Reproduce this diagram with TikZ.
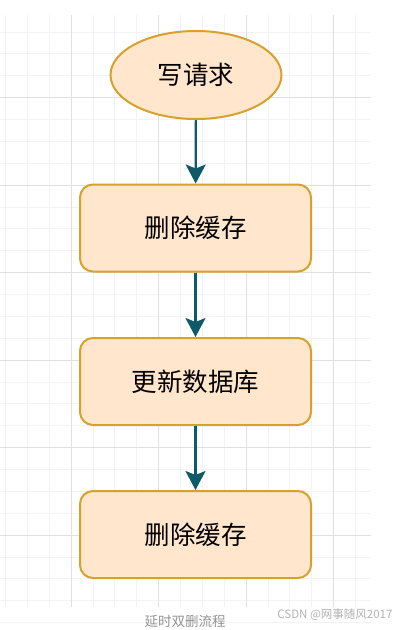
\documentclass[tikz,border=0pt]{standalone}
\usepackage{fontspec}
\newfontfamily\cjk{Noto Sans CJK SC}
\usetikzlibrary{shapes.geometric,arrows.meta}
\definecolor{boxfill}{HTML}{FFE6CC}
\definecolor{boxdraw}{HTML}{D6A12C}
\definecolor{arrowc}{HTML}{0E5A68}
\definecolor{gmajor}{HTML}{E0E0E0}
\definecolor{gminor}{HTML}{F3F3F3}
\tikzset{
  stepbox/.style={draw=boxdraw, fill=boxfill, line width=2pt, rounded corners=13pt,
    minimum width=231pt, minimum height=87pt, inner sep=0pt, font=\cjk\fontsize{25.5}{28}\selectfont},
  startell/.style={ellipse, draw=boxdraw, fill=boxfill, line width=2pt,
    minimum width=171pt, minimum height=88pt, inner sep=0pt, font=\cjk\fontsize{25.5}{28}\selectfont},
  flow/.style={draw=arrowc, line width=2.2pt, -{Stealth[length=19pt,width=20pt,inset=4pt]}},
}
\begin{document}
\begin{tikzpicture}[x=1pt,y=-1pt]
\useasboundingbox (0,0) rectangle (410,630);
\fill[white] (0,0) rectangle (410,630);
% grid
\foreach \k in {0,...,16} {
  \draw[gminor, line width=0.8pt] ({5.4+\k*21.875},15) -- ({5.4+\k*21.875},607);
}
\foreach \k in {0,...,27} {
  \draw[gminor, line width=0.8pt] (0,{31.9+\k*21.875}) -- (371,{31.9+\k*21.875});
}
\foreach \k in {0,...,3} {
  \draw[gmajor, line width=1pt] ({71+\k*87.5},15) -- ({71+\k*87.5},607);
}
\foreach \k in {0,...,5} {
  \draw[gmajor, line width=1pt] (0,{97.5+\k*87.5}) -- (371,{97.5+\k*87.5});
}
% nodes
\node[startell] (req) at (196,75) {写请求};
\node[stepbox] (del1) at (195.5,228) {删除缓存};
\node[stepbox] (upd) at (195.5,381.5) {更新数据库};
\node[stepbox] (del2) at (195.5,534.5) {删除缓存};
% connectors
\draw[flow] (req) -- (del1);
\draw[flow] (del1) -- (upd);
\draw[flow] (upd) -- (del2);
% captions
\node[font=\cjk\fontsize{13.5}{15}\selectfont, text=gray!85] (cap) at (185,621) {延时双删流程};
\node[font=\cjk\fontsize{11.5}{13}\selectfont, text=gray!60, anchor=east] (wm) at (396,615) {CSDN @网事随风2017};
\end{tikzpicture}
\end{document}
